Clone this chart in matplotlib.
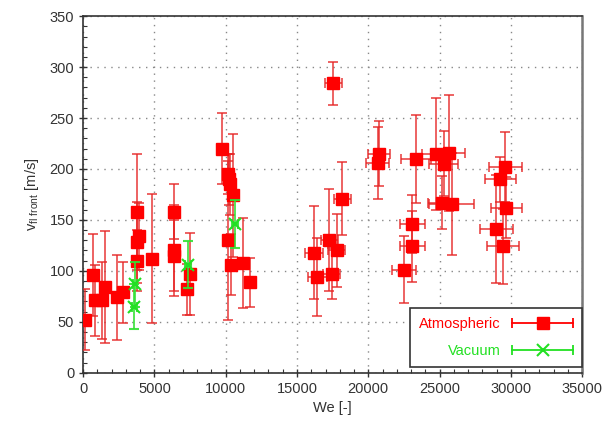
import numpy as np
import matplotlib
matplotlib.use("Agg")
import matplotlib.pyplot as plt
from matplotlib.ticker import MultipleLocator
from matplotlib.lines import Line2D
from matplotlib.legend_handler import HandlerBase

plt.rcParams['font.family'] = ['Liberation Sans', 'DejaVu Sans']

# Atmospheric series
atm_we = [100, 700, 820, 1290, 1520, 2340, 2760, 3750, 3930, 3790, 3800, 4850,
          6370, 6370, 6370, 7260, 7490, 9720, 10140, 10250, 10320, 10530, 10140,
          10350, 11240, 11700, 16200, 16430, 17270, 17440, 17560, 17790, 18190,
          20650, 20760, 22520, 23100, 23100, 23340, 24770, 25170, 25280, 25680,
          25870, 28980, 29260, 29450, 29610, 29680]
atm_v = [52, 96, 71, 71, 84, 74, 79, 158, 134, 128, 110, 112,
         158, 120, 115, 82, 97, 220, 195, 190, 185, 174, 130,
         106, 108, 89, 118, 94, 130, 97, 284, 120, 171,
         206, 215, 101, 146, 124, 210, 215, 167, 205, 216,
         166, 141, 190, 124, 202, 162]
atm_verr = [30, 40, 35, 38, 55, 42, 30, 57, 33, 40, 30, 63,
            27, 45, 35, 25, 40, 35, 20, 25, 30, 60, 78,
            30, 44, 24, 46, 38, 50, 25, 21, 36, 36,
            35, 32, 33, 28, 35, 43, 55, 26, 32, 57,
            50, 53, 22, 37, 34, 30]
atm_weerr = [150, 200, 200, 200, 200, 200, 200, 150, 150, 150, 150, 150,
             200, 200, 200, 200, 200, 250, 250, 250, 250, 250, 250,
             250, 300, 300, 640, 640, 600, 600, 610, 600, 600,
             790, 790, 850, 850, 900, 1030, 1000, 1000, 1000, 1100,
             1580, 1150, 1100, 1100, 1170, 1100]

# Vacuum series
vac_we = [3650, 3600, 7370, 10650]
vac_v = [87, 65, 106, 146]
vac_verr = [22, 22, 23, 24]
vac_weerr = [150, 150, 200, 200]

red = '#ff0000'
green = '#22e022'


class HErrHandler(HandlerBase):
    def create_artists(self, legend, orig_handle, xdescent, ydescent, width,
                       height, fontsize, trans):
        y = height / 2.0 - ydescent
        x0, x1 = -xdescent, width - xdescent
        c = orig_handle.get_color()
        line = Line2D([x0, x1], [y, y], color=c, lw=1.3)
        caps = Line2D([x0, x1], [y, y], ls='none', marker='|', ms=7,
                      mew=1.3, color=c)
        mk = Line2D([(x0 + x1) / 2.0], [y], ls='none',
                    marker=orig_handle.get_marker(),
                    ms=orig_handle.get_markersize(),
                    mew=orig_handle.get_markeredgewidth(), color=c)
        for a in (line, caps, mk):
            a.set_transform(trans)
        return [line, caps, mk]


fig = plt.figure(figsize=(6.07, 4.25), dpi=100)
ax = fig.add_axes([0.137, 0.123, 0.822, 0.839])

ax.errorbar(atm_we, atm_v, yerr=atm_verr, xerr=atm_weerr, fmt='s', color=red,
            ecolor=(0.9, 0.15, 0.15, 0.78), elinewidth=1.3, capsize=3.5, capthick=1.3,
            markersize=8.5, zorder=3)
ax.errorbar(vac_we, vac_v, yerr=vac_verr, xerr=vac_weerr, fmt='x', color=green,
            ecolor=(0.2, 0.88, 0.2, 0.9), elinewidth=1.3, capsize=3.5, capthick=1.3,
            markersize=9, markeredgewidth=1.5, zorder=4)

p1 = Line2D([], [], color=red, marker='s', markersize=9, markeredgewidth=1)
p2 = Line2D([], [], color=green, marker='x', markersize=9, markeredgewidth=1.5)
leg = ax.legend([p1, p2], ['Atmospheric', 'Vacuum'], loc='lower right',
                bbox_to_anchor=(1.0, 0.016), borderaxespad=0.0,
                markerfirst=False, fontsize=10.5, handlelength=4.2, framealpha=1,
                fancybox=False, edgecolor='#333333',
                labelspacing=0.9, borderpad=0.6, handletextpad=0.8,
                handler_map={Line2D: HErrHandler()})
leg.get_frame().set_linewidth(1.2)
for t, c in zip(leg.get_texts(), [red, green]):
    t.set_color(c)

ax.set_xlim(0, 35000)
ax.set_ylim(0, 350)
ax.xaxis.set_major_locator(MultipleLocator(5000))
ax.xaxis.set_minor_locator(MultipleLocator(1000))
ax.yaxis.set_major_locator(MultipleLocator(50))
ax.yaxis.set_minor_locator(MultipleLocator(10))
ax.tick_params(which='major', direction='inout', length=6, width=1, labelsize=10.5,
               colors='#333333', top=False, right=False)
ax.tick_params(which='minor', direction='in', length=3, width=0.8, colors='#333333',
               top=False, right=False)
ax.grid(True, which='major', linestyle=(0, (1, 4)), color='#888888', linewidth=1)
for s in ax.spines.values():
    s.set_color('#333333')
    s.set_linewidth(1.2)
ax.spines['right'].set_linewidth(1.8)
ax.spines['right'].set_color('#777777')

ax.set_xlabel('We [-]', fontsize=10.5, color='#333333', labelpad=4)
ax.set_ylabel(r'v$_{\mathregular{fl\ front}}$ [m/s]', fontsize=10.5, color='#333333', labelpad=6)

fig.savefig('out.png', dpi=100)
